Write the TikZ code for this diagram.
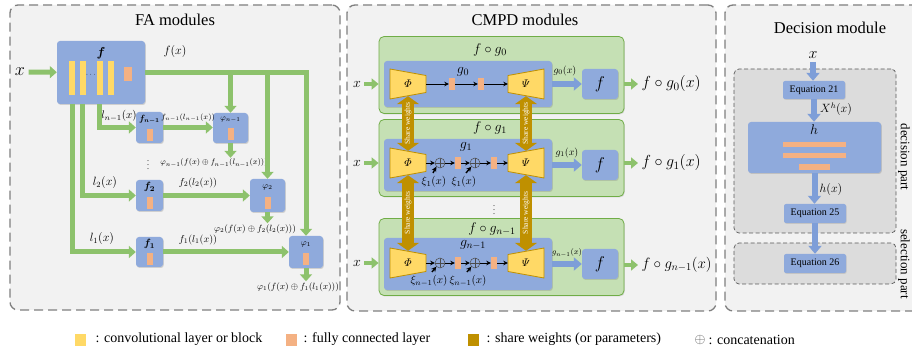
\RequirePackage{fix-cm}
\documentclass[tikz,border=0pt]{standalone}
\usepackage{amsmath,bm}
\usepackage{fontspec}
\setmainfont{Liberation Serif}
\usetikzlibrary{arrows.meta,shadows,calc}
\newcommand{\myfs}[1]{\fontsize{#1}{#1}\selectfont}
\definecolor{panelbg}{HTML}{F2F2F2}
\definecolor{panelbd}{HTML}{7F7F7F}
\definecolor{bbox}{HTML}{8FAADC}
\definecolor{yel}{HTML}{FFD966}
\definecolor{ora}{HTML}{F4B183}
\definecolor{gold}{HTML}{BF9000}
\definecolor{gfill}{HTML}{C5E0B4}
\definecolor{gbd}{HTML}{70AD47}
\definecolor{garr}{HTML}{8DC26C}
\definecolor{barr}{HTML}{7E9ED8}
\definecolor{dgray}{HTML}{DCDCDC}
\begin{document}
\begin{tikzpicture}[x=1pt,y=-1pt,
 panel/.style={draw=panelbd, fill=panelbg, line width=1.3pt, dash pattern=on 9pt off 5pt, rounded corners=8pt, inner sep=0},
 bluebox/.style={fill=bbox, rounded corners=3pt, inner sep=0, drop shadow={shadow xshift=0.8pt, shadow yshift=-1pt, opacity=0.3}},
 gbox/.style={fill=gfill, draw=gbd, line width=0.8pt, rounded corners=5pt, inner sep=0, drop shadow={shadow xshift=0.8pt, shadow yshift=-1pt, opacity=0.25}},
 fcbar/.style={fill=ora, inner sep=0, minimum width=6pt, minimum height=12pt},
 convbar/.style={fill=yel, inner sep=0, minimum width=6pt, minimum height=34pt},
 trap/.style={fill=yel, draw=gold, line width=0.8pt, line join=round},
 garrow/.style={draw=garr, line width=5pt, -{Triangle[width=12pt,length=7pt]}},
 gsmall/.style={draw=garr, line width=4.5pt, -{Triangle[width=11pt,length=7pt]}},
 barrow/.style={draw=barr, line width=6pt, -{Triangle[width=13pt,length=8pt]}},
 karrow/.style={draw=black, line width=0.9pt, -{Stealth[length=4.5pt,width=4.5pt]}},
 xiarr/.style={draw=black, line width=1.4pt, -{Stealth[length=5pt,width=5pt]}},
 swarrow/.style={draw=gold, line width=12pt, {Triangle[width=22pt,length=8pt]}-{Triangle[width=22pt,length=8pt]}},
 swtext/.style={rotate=90, text=white, font=\myfs{7.5}, inner sep=0},
 oplus/.style={circle, draw=black!70, line width=0.5pt, minimum size=10pt, inner sep=0,
   path picture={\draw[black!70, line width=0.5pt] (path picture bounding box.north) -- (path picture bounding box.south) (path picture bounding box.west) -- (path picture bounding box.east);}},
 dpart/.style={draw=black!65, fill=dgray, line width=0.7pt, dash pattern=on 4pt off 2.5pt, rounded corners=5pt, inner sep=0},
 eqbox/.style={fill=bbox, rounded corners=2pt, inner sep=0, font=\myfs{10}, drop shadow={shadow xshift=0.6pt, shadow yshift=-0.8pt, opacity=0.25}},
 lab/.style={inner sep=1pt},
 title/.style={font=\myfs{16.5}},
 legsq/.style={inner sep=0, minimum width=11pt, minimum height=12pt},
 legtxt/.style={anchor=west, font=\myfs{14}}
]
\clip (0,0) rectangle (912,352);
\fill[white] (0,0) rectangle (912,352);

% ---------- panels ----------
\node[panel, minimum width=330pt, minimum height=305pt] (P1) at (175,157.5) {};
\node[panel, minimum width=369pt, minimum height=306pt] (P2) at (531.5,158) {};
\node[panel, minimum width=215pt, minimum height=306pt] (P3) at (832.5,158) {};
\node[title] (T1) at (175,20) {FA modules};
\node[title] (T2) at (525,20) {CMPD modules};
\node[title] (T3) at (830,28) {Decision module};

% ---------- FA modules ----------
\node[bluebox, minimum width=88pt, minimum height=63pt] (F) at (101,72.5) {};
\node[font=\myfs{13}] (Flab) at (101,53) {$\bm{f}$};
\foreach \i/\xx in {1/72,2/83,3/100,4/111} \node[convbar] (cb\i) at (\xx,78) {};
\node[font=\myfs{7}] (cbdots) at (91.5,75) {$\cdots$};
\node[fcbar, minimum width=8pt, minimum height=14pt] (Ffc) at (128,74) {};
\node[font=\myfs{18}] (xin) at (20,72) {$x$};
\node[font=\myfs{12}] (fxlab) at (175,52) {$f(x)$};

\node[bluebox, minimum width=27pt, minimum height=31pt] (fN) at (149.5,127.5) {};
\node[font=\myfs{9}, inner sep=0] (fNlab) at (149.5,119.5) {$\bm{f_{n-1}}$};
\node[fcbar] (fNfc) at (149.5,135) {};
\node[bluebox, minimum width=35pt, minimum height=30pt] (phiN) at (230.5,128) {};
\node[font=\myfs{8}] (phiNlab) at (230.5,120) {$\varphi_{n-1}$};
\node[fcbar] (phiNfc) at (230.5,134) {};

\node[bluebox, minimum width=27pt, minimum height=31pt] (f2) at (149.5,195.5) {};
\node[font=\myfs{10.5}] (f2lab) at (149.5,187) {$\bm{f_2}$};
\node[fcbar] (f2fc) at (149.5,203) {};
\node[bluebox, minimum width=35pt, minimum height=33pt] (phi2) at (267.5,195.5) {};
\node[font=\myfs{8.5}] (phi2lab) at (267.5,187) {$\varphi_2$};
\node[fcbar] (phi2fc) at (267.5,203) {};

\node[bluebox, minimum width=27pt, minimum height=30pt] (f1) at (149.5,252) {};
\node[font=\myfs{10.5}] (f1lab) at (149.5,244) {$\bm{f_1}$};
\node[fcbar] (f1fc) at (149.5,259) {};
\node[bluebox, minimum width=34pt, minimum height=32pt] (phi1) at (306,252) {};
\node[font=\myfs{8.5}] (phi1lab) at (306,244) {$\varphi_1$};
\node[fcbar] (phi1fc) at (306,259) {};

\node[lab, font=\myfs{11}] (lN) at (119,116) {$l_{n-1}(x)$};
\node[lab, font=\myfs{7.5}] (fNl) at (188,118) {$f_{n-1}(l_{n-1}(x))$};
\node[lab, font=\myfs{12}] (l2) at (105,183) {$l_2(x)$};
\node[lab, font=\myfs{10}] (f2l) at (198,183) {$f_2(l_2(x))$};
\node[lab, font=\myfs{12}] (l1) at (102,239) {$l_1(x)$};
\node[lab, font=\myfs{10}] (f1l) at (198,240) {$f_1(l_1(x))$};
\node[lab, font=\myfs{8}] (oN) at (214,163) {$\varphi_{n-1}(f(x)\oplus f_{n-1}(l_{n-1}(x)))$};
\node[lab, font=\myfs{9}] (o2) at (255,229) {$\varphi_2(f(x)\oplus f_2(l_2(x)))$};
\node[lab, font=\myfs{9}] (o1) at (298,287) {$\varphi_1(f(x)\oplus f_1(l_1(x)))$};
\node[font=\myfs{8}, inner sep=0] (vdA) at (148,162) {$\vdots$};

\draw[garrow] (xin) -- (F);
\draw[garrow] (F.east) -| (phi1.north);
\draw[garrow] (F.east -| phi2.north) -- (phi2.north);
\draw[garrow] (F.east -| phiN.north) -- (phiN.north);
\draw[garrow] ([xshift=-1.5pt]F.south) |- (fN.west);
\draw[garrow] ([xshift=-19pt]F.south) |- (f2.west);
\draw[garrow] ([xshift=-29pt]F.south) |- (f1.west);
\draw[garrow] (fN.east) -- (phiN.west |- fN.east);
\draw[garrow] (f2.east) -- (phi2.west |- f2.east);
\draw[garrow] (f1.east) -- (phi1.west |- f1.east);
\draw[garrow] (phiN.south) -- (phiN.south |- oN.north);
\draw[garrow] (phi2.south) -- (phi2.south |- o2.north);
\draw[garrow] (phi1.south) -- (phi1.south |- o1.north);

% ---------- CMPD modules ----------
\foreach \r/\gy/\by/\bh/\yc in {0/75/84/46/84, 1/158/165/52/163, 2/257/264/52/263} {
  \node[gbox, minimum width=245pt, minimum height=77pt] (G\r) at (501.5,\gy) {};
  \node[bluebox, minimum width=168pt, minimum height=\bh pt] (B\r) at (468,\by) {};
  \filldraw[trap] (390,\yc-15) -- (426,\yc-8.5) -- (426,\yc+8.5) -- (390,\yc+15) -- cycle;
  \filldraw[trap] (508,\yc-8.5) -- (544,\yc-15) -- (544,\yc+15) -- (508,\yc+8.5) -- cycle;
  \node[inner sep=0, minimum width=36pt, minimum height=24pt, font=\myfs{11}] (Phi\r) at (408,\yc) {$\varPhi$};
  \node[inner sep=0, minimum width=36pt, minimum height=24pt, font=\myfs{11}] (Psi\r) at (526,\yc) {$\varPsi$};
  \node[bluebox, minimum width=36pt, minimum height=30pt, font=\myfs{17}] (FB\r) at (600,\by) {$f$};
  \draw[barrow] (B\r.east |- FB\r) -- (FB\r);
  \node[font=\myfs{14}] (XR\r) at (357,\yc) {$x$};
  \draw[gsmall] (XR\r) -- (G\r.west |- XR\r);
}
\node[font=\myfs{14}] (GL0) at (490,50) {$f\circ g_0$};
\node[font=\myfs{14}] (GL1) at (490,128) {$f\circ g_1$};
\node[font=\myfs{14}] (GL2) at (492,229) {$f\circ g_{n-1}$};
\node[font=\myfs{14}] (gl0) at (463,72) {$g_0$};
\node[font=\myfs{14}] (gl1) at (466,147) {$g_1$};
\node[font=\myfs{14}] (gl2) at (473,245) {$g_{n-1}$};
\node[font=\myfs{10}] (gx0) at (565,71) {$g_0(x)$};
\node[font=\myfs{10}] (gx1) at (567,153) {$g_1(x)$};
\node[font=\myfs{8}] (gx2) at (567,253) {$g_{n-1}(x)$};

% row 0 chain
\node[fcbar] (fc01) at (452,84) {};
\node[fcbar] (fc02) at (481,84) {};
\draw[karrow] (Phi0) -- (fc01);
\draw[karrow] (fc01) -- (fc02);
\draw[karrow] (fc02) -- (Psi0);
% row 1 chain
\node[oplus] (c11) at (440,163) {};
\node[fcbar] (fc11) at (458,163) {};
\node[oplus] (c12) at (475,163) {};
\node[fcbar] (fc12) at (494,163) {};
\draw[karrow] (Phi1) -- (c11);
\draw[karrow] (c11) -- (fc11);
\draw[karrow] (fc11) -- (c12);
\draw[karrow] (c12) -- (fc12);
\draw[karrow] (fc12) -- (Psi1);
\node[font=\myfs{11}] (xi11) at (434,182) {$\xi_1(x)$};
\node[font=\myfs{11}] (xi12) at (464,182) {$\xi_1(x)$};
\draw[xiarr] ([xshift=-1pt]xi11.north) -- (c11.south west);
\draw[xiarr] ([xshift=2pt]xi12.north) -- (c12.south west);
% row 2 chain
\node[oplus] (c21) at (440,263) {};
\node[fcbar] (fc21) at (458,263) {};
\node[oplus] (c22) at (475,263) {};
\node[fcbar] (fc22) at (494,263) {};
\draw[karrow] (Phi2) -- (c21);
\draw[karrow] (c21) -- (fc21);
\draw[karrow] (fc21) -- (c22);
\draw[karrow] (c22) -- (fc22);
\draw[karrow] (fc22) -- (Psi2);
\node[font=\myfs{11}] (xi21) at (429,281) {$\xi_{n-1}(x)$};
\node[font=\myfs{11}] (xi22) at (468,281) {$\xi_{n-1}(x)$};
\draw[xiarr] ([xshift=3pt]xi21.north) -- (c21.south west);
\draw[xiarr] ([xshift=-1pt]xi22.north) -- (c22.south west);

\node[font=\myfs{8}, inner sep=0] (vdB) at (494,207) {$\vdots$};

% outputs
\node[anchor=west, font=\myfs{16}] (O0) at (638,84) {$f\circ g_0(x)$};
\node[anchor=west, font=\myfs{16}] (O1) at (638,163) {$f\circ g_1(x)$};
\node[anchor=west, font=\myfs{15}] (O2) at (638,265) {$f\circ g_{n-1}(x)$};
\draw[gsmall] (G0.east |- O0) -- (O0.west);
\draw[gsmall] (G1.east |- O1) -- (O1.west);
\draw[gsmall] (G2.east |- O2) -- (O2.west);

% share weights
\draw[swarrow] (Phi0.south) -- node[swtext]{Share weights} (Phi1.north);
\draw[swarrow] (Phi1.south) -- node[swtext]{Share weights} (Phi2.north);
\draw[swarrow] (Psi0.south) -- node[swtext]{Share weights} (Psi1.north);
\draw[swarrow] (Psi1.south) -- node[swtext]{Share weights} (Psi2.north);

% ---------- Decision module ----------
\node[dpart, minimum width=162pt, minimum height=164pt] (DP) at (815,151) {};
\node[dpart, minimum width=162pt, minimum height=41pt] (SP) at (815,263.5) {};
\node[font=\myfs{16}] (xd) at (813,55) {$x$};
\node[eqbox, minimum width=62pt, minimum height=18pt] (E21) at (814,90) {Equation 21};
\node[bluebox, minimum width=133pt, minimum height=51pt] (H) at (814.5,147.5) {};
\node[font=\myfs{14}] (Hlab) at (814,130) {$h$};
\node[fill=ora, inner sep=0, minimum width=63pt, minimum height=5.5pt] (hb1) at (814.5,144.5) {};
\node[fill=ora, inner sep=0, minimum width=63pt, minimum height=5.5pt] (hb2) at (814.5,155.5) {};
\node[fill=ora, inner sep=0, minimum width=31pt, minimum height=5.5pt] (hb3) at (814.5,167) {};
\node[eqbox, minimum width=62pt, minimum height=19pt] (E25) at (815,213.5) {Equation 25};
\node[eqbox, minimum width=62pt, minimum height=19pt] (E26) at (815,263.5) {Equation 26};
\draw[barrow] (xd.south) -- (xd.south |- E21.north);
\draw[barrow] (E21.south) -- (E21.south |- H.north);
\draw[barrow] (H.south) -- (H.south |- E25.north);
\draw[barrow] (E25.south) -- (E25.south |- E26.north);
\node[font=\myfs{12}] (Xh) at (836,109) {$X^h(x)$};
\node[font=\myfs{12}] (hx) at (831,190) {$h(x)$};
\node[rotate=-90, font=\myfs{13}, inner sep=1pt] (dlab) at (904,157) {decision part};
\node[rotate=-90, font=\myfs{13}, inner sep=1pt] (slab) at (904,264) {selection part};

% ---------- legend ----------
\node[legsq, fill=yel] (L1) at (80.5,340) {};
\node[legtxt] (L1t) at (92,339.5) {: convolutional layer or block};
\node[legsq, fill=ora] (L2) at (291.5,340) {};
\node[legtxt] (L2t) at (300,339.5) {: fully connected layer};
\node[legsq, fill=gold] (L3) at (473,340) {};
\node[legtxt] (L3t) at (483,339.5) {: share weights (or parameters)};
\node[font=\myfs{14}, text=black!70] (L4) at (700,340) {$\oplus$};
\node[legtxt] (L4t) at (705,339.5) {: concatenation};
\end{tikzpicture}
\end{document}
